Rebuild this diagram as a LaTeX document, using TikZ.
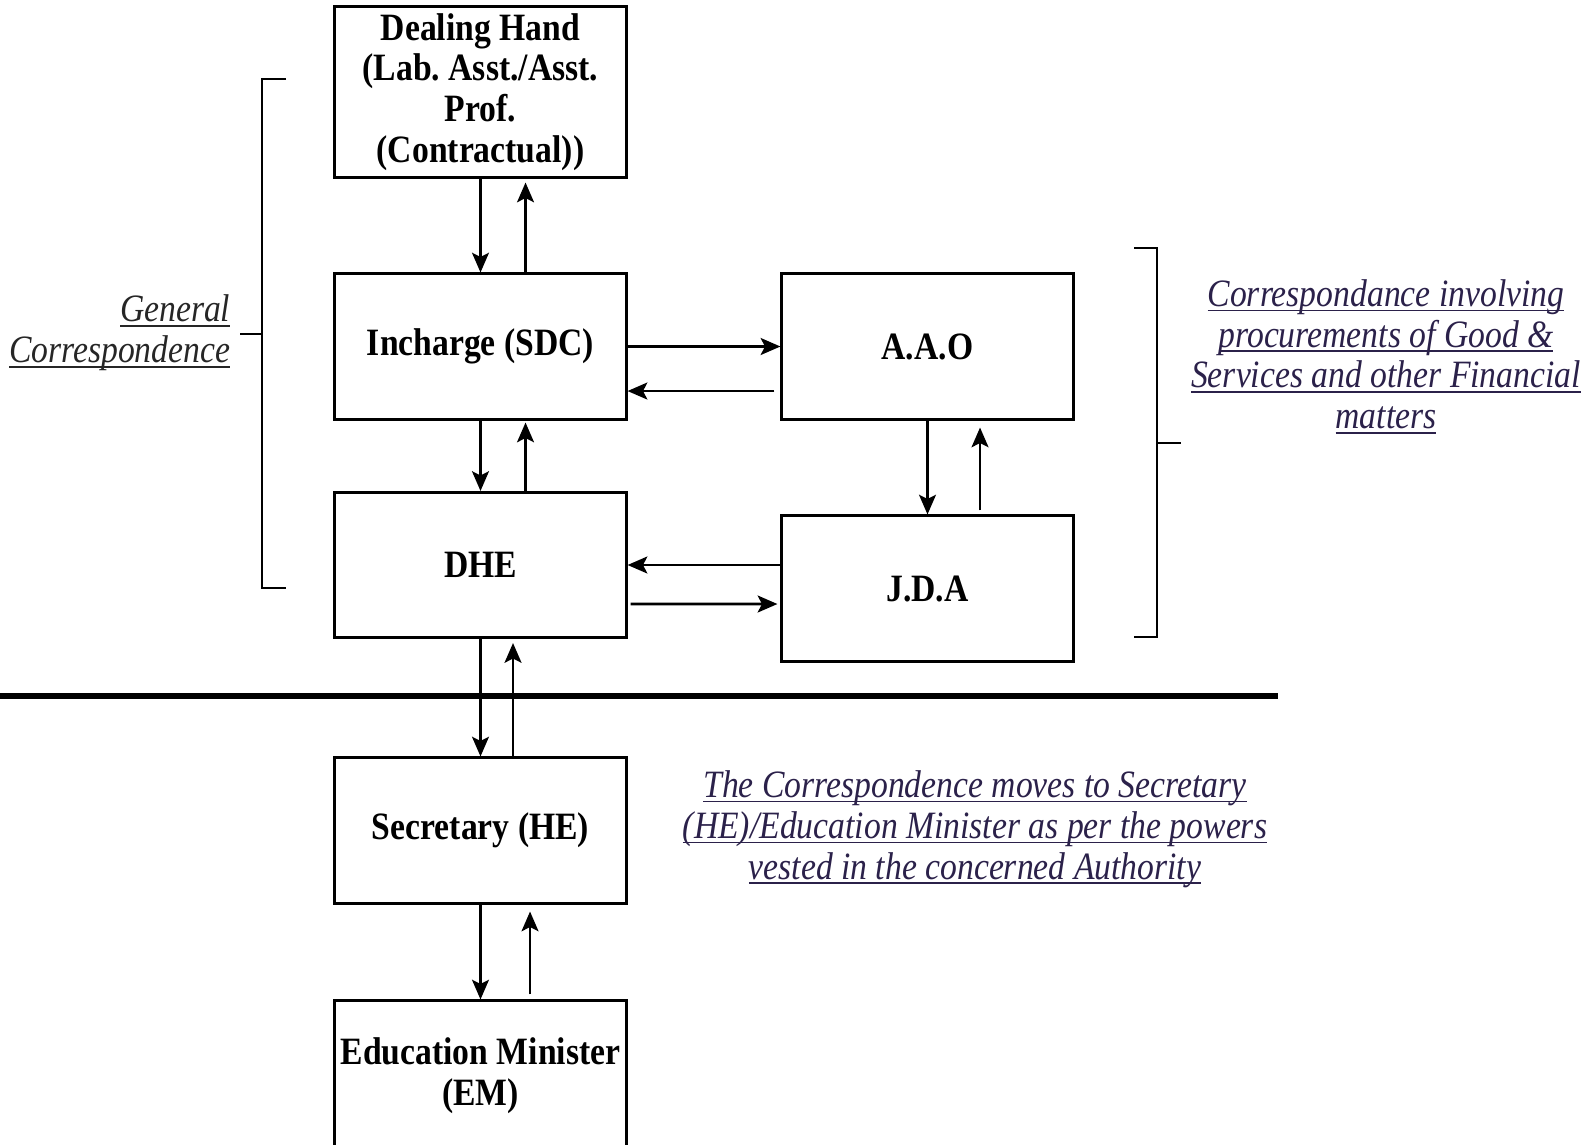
\documentclass[tikz,border=0pt]{standalone}
\usepackage{fontspec}
\setmainfont{Liberation Serif}[FakeStretch=0.87]
\usetikzlibrary{arrows.meta}
\frenchspacing

\definecolor{notecol}{RGB}{43,33,74}
\newcommand{\lineul}[1]{\setbox0\hbox{#1}\rlap{\rule[-1.4pt]{\wd0}{0.45pt}}\box0}

\tikzset{
  box/.style={draw, line width=0.85pt, minimum width=2.91cm, minimum height=1.45cm,
    align=center, inner sep=1pt, font=\bfseries\fontsize{11}{11.6}\selectfont},
  arr/.style={line width=0.75pt, -{Stealth[length=5.6pt, width=4.8pt, inset=1.2pt]}},
  brace/.style={line width=0.75pt},
  note/.style={align=center, inner sep=0pt, text=notecol,
    font=\itshape\fontsize{11}{11.6}\selectfont},
}

\begin{document}
\begin{tikzpicture}[x=0.01cm, y=-0.01cm]
\useasboundingbox (0,0) rectangle (1590,1145);
\clip (0,0) rectangle (1590,1145);

  \node[box, minimum height=1.70cm] (dh) at (480.5,92) {Dealing Hand\\(Lab. Asst./Asst.\\Prof.\\(Contractual))};

  \node[box] (inc) at (480.5,346.5) {Incharge (SDC)};

  \node[box] (dhe) at (480.5,565) {DHE};

  \node[box] (aao) at (927.5,346.5) {A.A.O};

  \node[box] (jda) at (927.5,588.5) {J.D.A};

  \node[box] (sec) at (480.5,830.5) {Secretary (HE)};

  \node[box, minimum height=1.49cm] (em) at (480.5,1075.5) {Education Minister\\(EM)};

% up and down the line
\draw[arr] (dh.south) -- (inc.north);
\draw[arr] ([xshift=0.45cm]inc.north) -- ([xshift=0.45cm, yshift=-0.04cm]dh.south);
\draw[arr] (inc.south) -- (dhe.north);
\draw[arr] ([xshift=0.45cm]dhe.north) -- ([xshift=0.45cm, yshift=-0.02cm]inc.south);
\draw[arr] (dhe.south) -- (sec.north);
\draw[arr] ([xshift=0.325cm]sec.north) -- ([xshift=0.325cm, yshift=-0.04cm]dhe.south);
\draw[arr] (sec.south) -- (em.north);
\draw[arr] ([xshift=0.495cm, yshift=0.05cm]em.north) -- ([xshift=0.495cm, yshift=-0.07cm]sec.south);

% finance side
\draw[arr] (inc.east) -- (aao.west);
\draw[arr] ([xshift=-0.06cm, yshift=-0.445cm]aao.west) -- ([yshift=-0.445cm]inc.east);
\draw[arr] (aao.south) -- (jda.north);
\draw[arr] ([xshift=0.525cm, yshift=0.04cm]jda.north) -- ([xshift=0.525cm, yshift=-0.07cm]aao.south);
\draw[arr] (jda.west |- dhe.east) -- (dhe.east);
\draw[arr] ([xshift=0.03cm, yshift=-0.39cm]dhe.east) -- ([xshift=-0.03cm, yshift=-0.155cm]jda.west);

% brackets
\draw[brace] (286,79) -- (262,79) -- (262,588) -- (286,588);
\draw[brace] (240,334) -- (262,334);
\draw[brace] (1134,248) -- (1157,248) -- (1157,637) -- (1134,637);
\draw[brace] (1157,443) -- (1181,443);

\draw[line width=1.6pt] (0,696) -- (1278,696);

  \node[note, anchor=east, align=right, text=black!85] (gen) at (231,333) {\lineul{General}\\\lineul{Correspondence}};

  \node[note] (fin) at (1386,356.5) {\lineul{Correspondance involving}\\\lineul{procurements of Good \&}\\\lineul{Services and other Financial}\\\lineul{matters}};

  \node[note] (move) at (975,829) {\lineul{The Correspondence moves to Secretary}\\\lineul{(HE)/Education Minister as per the powers}\\\lineul{vested in the concerned Authority}};

\end{tikzpicture}
\end{document}
